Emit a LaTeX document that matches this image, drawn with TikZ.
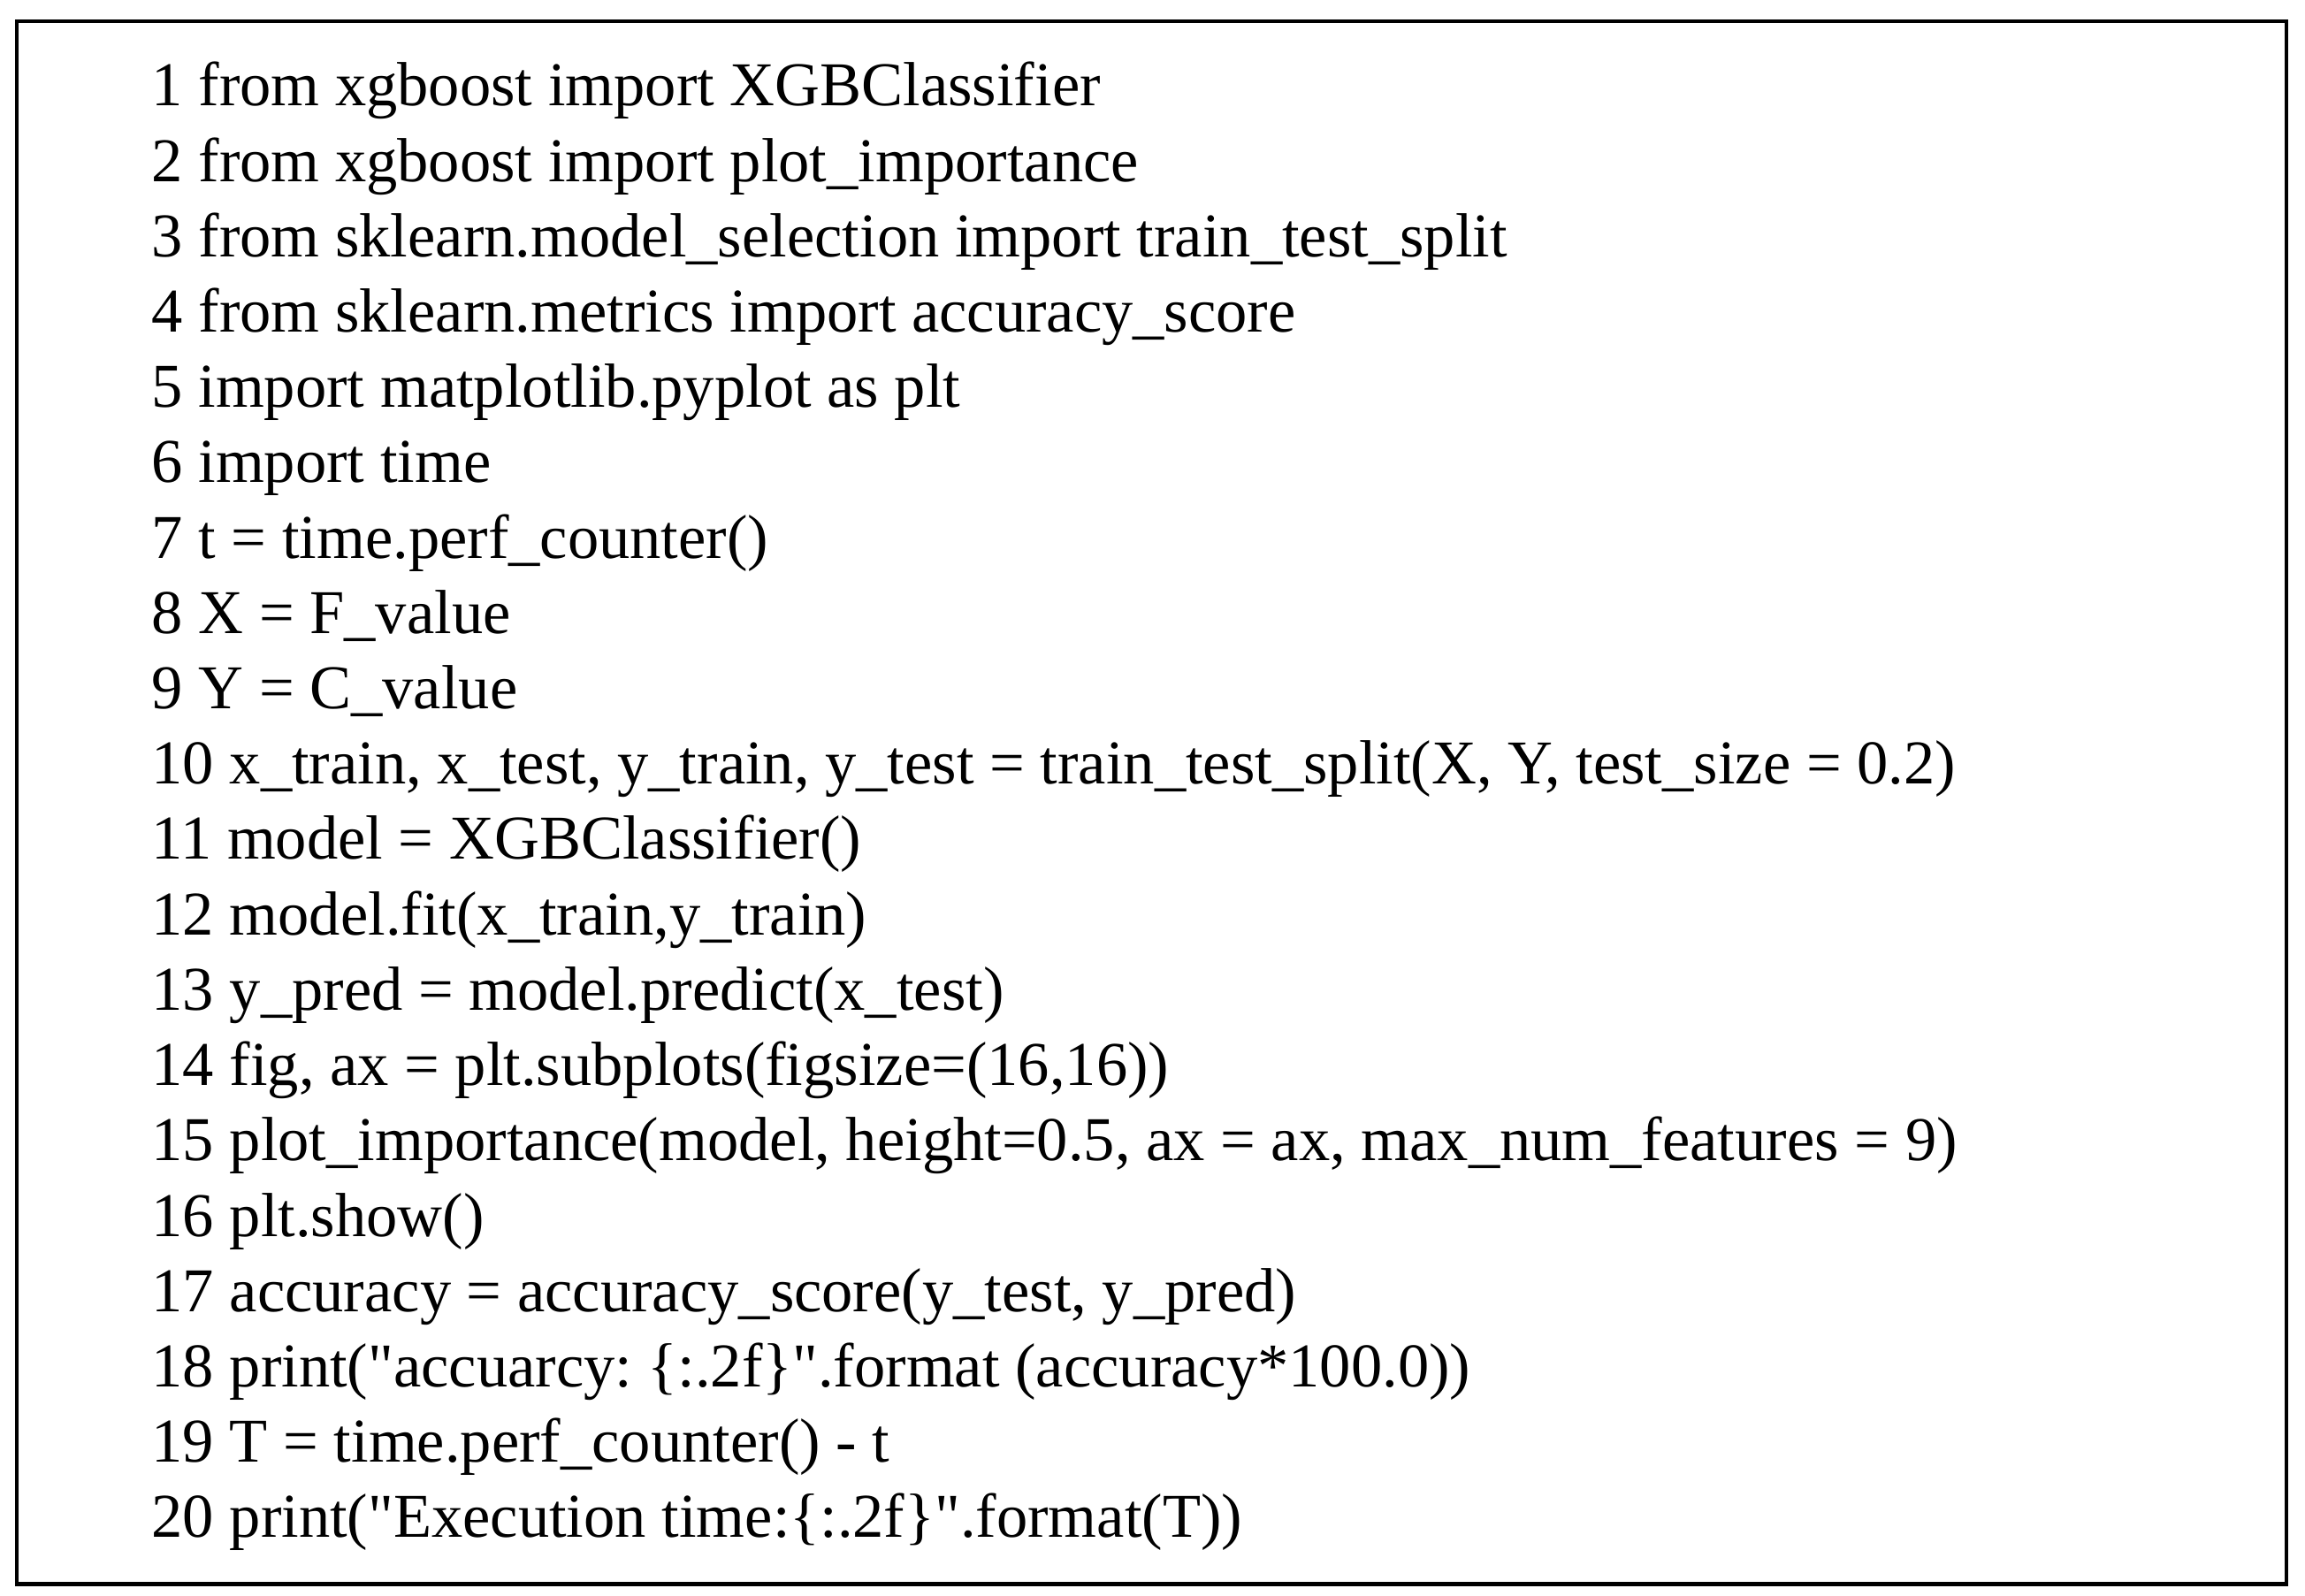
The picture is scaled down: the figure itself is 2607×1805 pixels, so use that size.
\documentclass[tikz,border=0pt]{standalone}
\usepackage{fontspec}
\setmainfont{Liberation Serif}[Ligatures=TeXOff]
\frenchspacing
\begin{document}
\begin{tikzpicture}[x=0.3pt,y=-0.3pt,
  codeline/.style={anchor=base west,inner sep=0pt,font=\fontsize{21.15}{25.5}\selectfont\frenchspacing},
  frame/.style={draw=black,line width=1.25pt}]
\useasboundingbox (0,0) rectangle (2607,1805);
\draw[frame] (19,24) rectangle (2585.7,1791.5);
\def\bx{171}
\node[codeline] (l1) at (\bx,120) {1 from xgboost import XGBClassifier};
\node[codeline] (l2) at (\bx,205.2) {2 from xgboost import plot\_importance};
\node[codeline] (l3) at (\bx,290.4) {3 from sklearn.model\_selection import train\_test\_split};
\node[codeline] (l4) at (\bx,375.6) {4 from sklearn.metrics import accuracy\_score};
\node[codeline] (l5) at (\bx,460.8) {5 import matplotlib.pyplot as plt};
\node[codeline] (l6) at (\bx,546.0) {6 import time};
\node[codeline] (l7) at (\bx,631.2) {7 t = time.perf\_counter()};
\node[codeline] (l8) at (\bx,716.4) {8 X = F\_value};
\node[codeline] (l9) at (\bx,801.6) {9 Y = C\_value};
\node[codeline] (l10) at (\bx,886.8) {10 x\_train, x\_test, y\_train, y\_test = train\_test\_split(X, Y, test\_size = 0.2)};
\node[codeline] (l11) at (\bx,972.0) {11 model = XGBClassifier()};
\node[codeline] (l12) at (\bx,1057.2) {12 model.fit(x\_train,y\_train)};
\node[codeline] (l13) at (\bx,1142.4) {13 y\_pred = model.predict(x\_test)};
\node[codeline] (l14) at (\bx,1227.6) {14 fig, ax = plt.subplots(figsize=(16,16))};
\node[codeline] (l15) at (\bx,1312.8) {15 plot\_importance(model, height=0.5, ax = ax, max\_num\_features = 9)};
\node[codeline] (l16) at (\bx,1398.0) {16 plt.show()};
\node[codeline] (l17) at (\bx,1483.2) {17 accuracy = accuracy\_score(y\_test, y\_pred)};
\node[codeline] (l18) at (\bx,1568.4) {18 print("accuarcy: \{:.2f\}".format (accuracy*100.0))};
\node[codeline] (l19) at (\bx,1653.6) {19 T = time.perf\_counter() - t};
\node[codeline] (l20) at (\bx,1738.8) {20 print("Execution time:\{:.2f\}".format(T))};
\end{tikzpicture}
\end{document}
